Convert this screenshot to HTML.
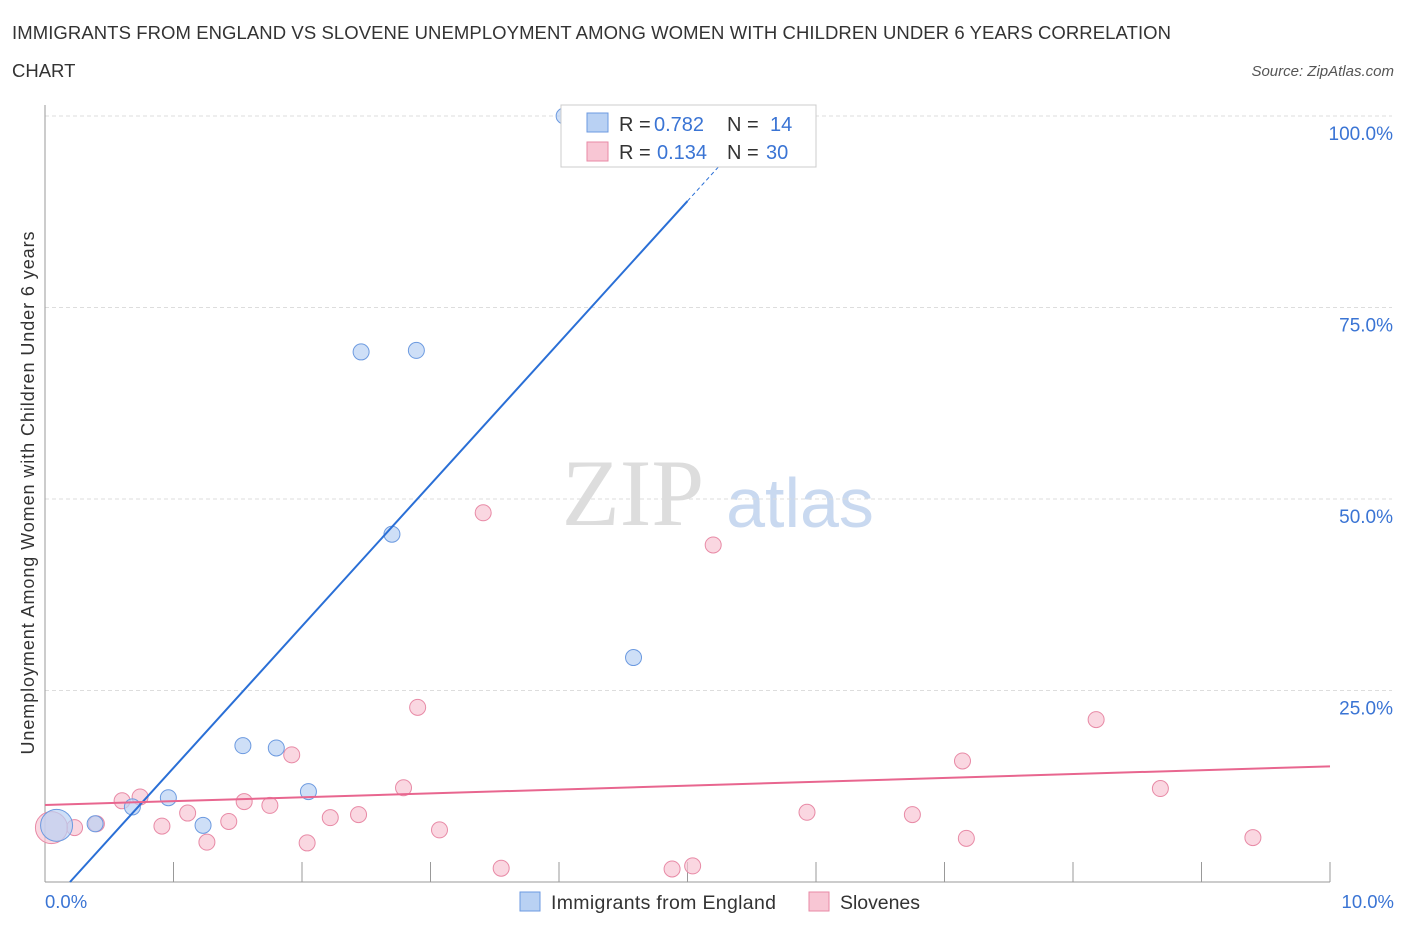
<!DOCTYPE html>
<html><head><meta charset="utf-8"><style>
body{margin:0;background:#fff;font-family:"Liberation Sans",sans-serif;}
</style></head><body>
<svg width="1406" height="930" xmlns="http://www.w3.org/2000/svg" font-family="Liberation Sans, sans-serif">
<text x="12" y="39" font-size="18.5" fill="#333" textLength="1159">IMMIGRANTS FROM ENGLAND VS SLOVENE UNEMPLOYMENT AMONG WOMEN WITH CHILDREN UNDER 6 YEARS CORRELATION</text>
<text x="12" y="77" font-size="18.5" fill="#333">CHART</text>
<text x="1394" y="76" font-size="15" fill="#555" font-style="italic" text-anchor="end">Source: ZipAtlas.com</text>
<text x="34" y="493" font-size="18" fill="#333" text-anchor="middle" textLength="523" transform="rotate(-90 34 493)">Unemployment Among Women with Children Under 6 years</text>
<text x="633" y="525" font-size="95" fill="#ddd" font-family="Liberation Serif, serif" text-anchor="middle">ZIP</text>
<text x="800" y="527" font-size="70" fill="#c9d9f0" text-anchor="middle">atlas</text>
<g id="grid"></g>
<g id="marks"></g>
<g>
<rect x="561" y="105" width="255" height="62" fill="#fff" stroke="#ccc"/>
<rect x="587" y="113" width="21" height="19" fill="#b9d1f3" stroke="#6c9ae0"/>
<rect x="587" y="142" width="21" height="19" fill="#f8c6d4" stroke="#e88aa6"/>
<text x="619" y="131" font-size="20" fill="#333">R =</text>
<text x="654" y="131" font-size="20" fill="#3a74d4">0.782</text>
<text x="727" y="131" font-size="20" fill="#333">N =</text>
<text x="770" y="131" font-size="20" fill="#3a74d4">14</text>
<text x="619" y="159" font-size="20" fill="#333">R =</text>
<text x="657" y="159" font-size="20" fill="#3a74d4">0.134</text>
<text x="727" y="159" font-size="20" fill="#333">N =</text>
<text x="766" y="159" font-size="20" fill="#3a74d4">30</text>
</g>
<g>
<rect x="520" y="892" width="20" height="19" fill="#b9d1f3" stroke="#6c9ae0"/>
<text x="551" y="909" font-size="19.5" fill="#333" textLength="225">Immigrants from England</text>
<rect x="809" y="892" width="20" height="19" fill="#f8c6d4" stroke="#e88aa6"/>
<text x="840" y="909" font-size="19.5" fill="#333" textLength="80">Slovenes</text>
</g>
<text x="45" y="908" font-size="18.5" fill="#3a74d4">0.0%</text>
<text x="1394" y="908" font-size="18.5" fill="#3a74d4" text-anchor="end">10.0%</text>
</svg>
<script>
const yTicks=[25,50,75,100];
const yTickLabels=["25.0%","50.0%","75.0%","100.0%"];
const englandX=[4.04,4.37,2.46,2.89,2.70,4.58,1.54,1.80,2.05,0.96,0.68,1.23,0.39,0.09];
const englandY=[100,100,69.2,69.4,45.4,29.3,17.8,17.5,11.8,11.0,9.8,7.4,7.6,7.4];
const englandR=[8,8,8,8,8,8,8,8,8,8,8,8,8,16];
const sloveneX=[3.41,5.20,2.90,1.92,8.18,7.14,2.79,8.68,0.74,0.60,1.55,1.75,1.11,2.44,2.22,1.43,0.91,5.93,6.75,3.07,7.17,9.40,1.26,2.04,3.55,4.88,5.04,0.40,0.23,0.05];
const sloveneY=[48.2,44.0,22.8,16.6,21.2,15.8,12.3,12.2,11.1,10.6,10.5,10.0,9.0,8.8,8.4,7.9,7.3,9.1,8.8,6.8,5.7,5.8,5.2,5.1,1.8,1.7,2.1,7.6,7.1,7.1];
const sloveneR=[8,8,8,8,8,8,8,8,8,8,8,8,8,8,8,8,8,8,8,8,8,8,8,8,8,8,8,8,8,16];
const englandFit=[-3.6,18.5];
const sloveneFit=[10.05,0.505];
const NS="http://www.w3.org/2000/svg";
const X=v=>45+v*128.5, Y=v=>882-v*7.66;
function mk(t,a,p){const e=document.createElementNS(NS,t);for(const k in a)e.setAttribute(k,a[k]);p.appendChild(e);return e;}
const g=document.getElementById('grid'),m=document.getElementById('marks');
yTicks.forEach((t,i)=>{
 const l=mk('line',{x1:45,x2:1392,y1:Y(t),y2:Y(t),stroke:'#ddd','stroke-dasharray':'4,3'},g);
 
 
 const tx=mk('text',{x:1393,y:Y(t)+24,'font-size':19,fill:'#3a74d4','text-anchor':'end'},g);
 tx.textContent=yTickLabels[i];
 
 
});
const ax=mk('line',{x1:45,x2:1330,y1:882,y2:882,stroke:'#999'},g);


const ay=mk('line',{x1:45,x2:45,y1:105,y2:882,stroke:'#999'},g);


for(let i=1;i<=10;i++){const t=mk('line',{x1:X(i),x2:X(i),y1:862,y2:882,stroke:'#999'},g);
 
 }
sloveneX.forEach((v,i)=>{const c=mk('circle',{cx:X(v),cy:Y(sloveneY[i]),r:sloveneR[i],fill:'#f8c6d4','fill-opacity':0.7,stroke:'#e88aa6'},m);
 
 });
englandX.forEach((v,i)=>{const c=mk('circle',{cx:X(v),cy:Y(englandY[i]),r:englandR[i],fill:'#b9d1f3','fill-opacity':0.7,stroke:'#6c9ae0'},m);
 
 });
const x0=-englandFit[0]/englandFit[1];
const bl=mk('line',{x1:X(x0),y1:Y(0),x2:X(5.0),y2:Y(englandFit[0]+englandFit[1]*5.0),stroke:'#2a6fd6','stroke-width':2},m);


const bd=mk('line',{x1:X(5.0),y1:Y(englandFit[0]+englandFit[1]*5.0),x2:X(5.45),y2:Y(englandFit[0]+englandFit[1]*5.45),stroke:'#2a6fd6','stroke-width':1,'stroke-dasharray':'4,3'},m);


const pl=mk('line',{x1:X(0),y1:Y(sloveneFit[0]),x2:X(10),y2:Y(sloveneFit[0]+sloveneFit[1]*10),stroke:'#e8668f','stroke-width':2},m);


</script>
</body></html>
